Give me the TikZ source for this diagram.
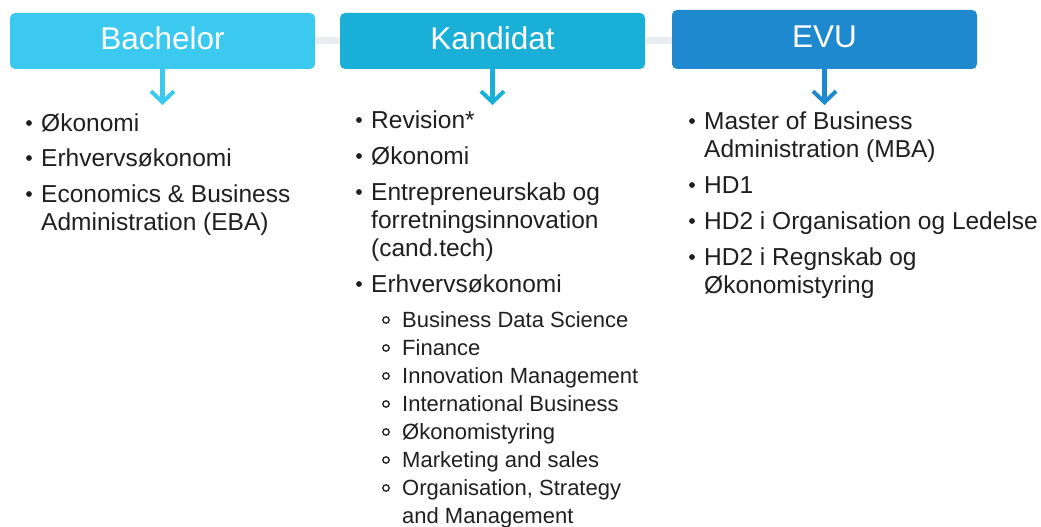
\documentclass[tikz,border=0pt]{standalone}
\usepackage{fontspec}
\setmainfont{Liberation Sans}
\usetikzlibrary{arrows.meta,calc}
\definecolor{cBach}{HTML}{3BC9F0}
\definecolor{cKand}{HTML}{19AFD6}
\definecolor{cEvu}{HTML}{1E89CF}
\definecolor{cLink}{HTML}{E8EDF1}
\definecolor{cTxt}{HTML}{1F1F1F}
\newcommand\ml[1]{\begin{tabular}[t]{@{}l@{}}#1\end{tabular}}
\newcommand\blt[1]{\fill[cTxt] ($(#1.base west)+(-12,-8)$) circle (2.9);}
\newcommand\cblt[1]{\draw[cTxt, line width=1.3pt] ($(#1.base west)+(-16,-7)$) circle (3.2);}
\tikzset{
  head/.style={rounded corners=5pt, text=white, font=\fontsize{31.5}{36}\selectfont,
    inner sep=0pt, minimum width=305pt, text depth=6pt},
  item/.style={anchor=base west, inner sep=0pt, text=cTxt, font=\fontsize{24.5}{28}\selectfont},
  subitem/.style={anchor=base west, inner sep=0pt, text=cTxt, font=\fontsize{22}{28}\selectfont},
  down/.style={line width=4.5pt, -{Straight Barb[length=11pt,width=23pt,line width=4pt]}},
  link/.style={cLink, line width=7pt},
}
\begin{document}
\begin{tikzpicture}[x=1pt,y=-1pt]
\useasboundingbox (0,0) rectangle (1041,527);
% header boxes
\node[head, fill=cBach, minimum height=56pt] (b) at (162.5,41) {Bachelor};
\node[head, fill=cKand, minimum height=56pt] (k) at (492.5,41) {Kandidat};
\node[head, fill=cEvu, minimum height=59pt] (e) at (824.5,39.5) {EVU};
% links
\draw[link] (b.east) -- (k.west);
\draw[link] (k.east) -- (k.east -| e.west);
% arrows
\coordinate (ba) at (162.5,105);
\coordinate (ka) at (492.5,105);
\coordinate (ea) at (824.5,105);
\draw[down, cBach] (b.south) -- (ba);
\draw[down, cKand] (k.south) -- (ka);
\draw[down, cEvu] (e.south) -- (ea);
% Bachelor list
\node[item] (b1) at (41,131) {Økonomi};
\node[item] (b2) at (41,166) {Erhvervsøkonomi};
\node[item] (b3) at (41,202) {\ml{Economics \& Business\\Administration (EBA)}};
\blt{b1}\blt{b2}\blt{b3}
% Kandidat list
\node[item] (k1) at (371,128) {Revision*};
\node[item] (k2) at (371,164) {Økonomi};
\node[item] (k3) at (371,200) {\ml{Entrepreneurskab og\\forretningsinnovation\\(cand.tech)}};
\node[item] (k4) at (371,292) {Erhvervsøkonomi};
\blt{k1}\blt{k2}\blt{k3}\blt{k4}
\node[subitem] (s1) at (402,327) {Business Data Science};
\node[subitem] (s2) at (402,355) {Finance};
\node[subitem] (s3) at (402,383) {Innovation Management};
\node[subitem] (s4) at (402,411) {International Business};
\node[subitem] (s5) at (402,439) {Økonomistyring};
\node[subitem] (s6) at (402,467) {Marketing and sales};
\node[subitem] (s7) at (402,495) {\ml{Organisation, Strategy\\and Management}};
\cblt{s1}\cblt{s2}\cblt{s3}\cblt{s4}\cblt{s5}\cblt{s6}\cblt{s7}
% EVU list
\node[item] (e1) at (704,129) {\ml{Master of Business\\Administration (MBA)}};
\node[item] (e2) at (704,193) {HD1};
\node[item] (e3) at (704,229) {HD2 i Organisation og Ledelse};
\node[item] (e4) at (704,265) {\ml{HD2 i Regnskab og\\Økonomistyring}};
\blt{e1}\blt{e2}\blt{e3}\blt{e4}
\end{tikzpicture}
\end{document}
